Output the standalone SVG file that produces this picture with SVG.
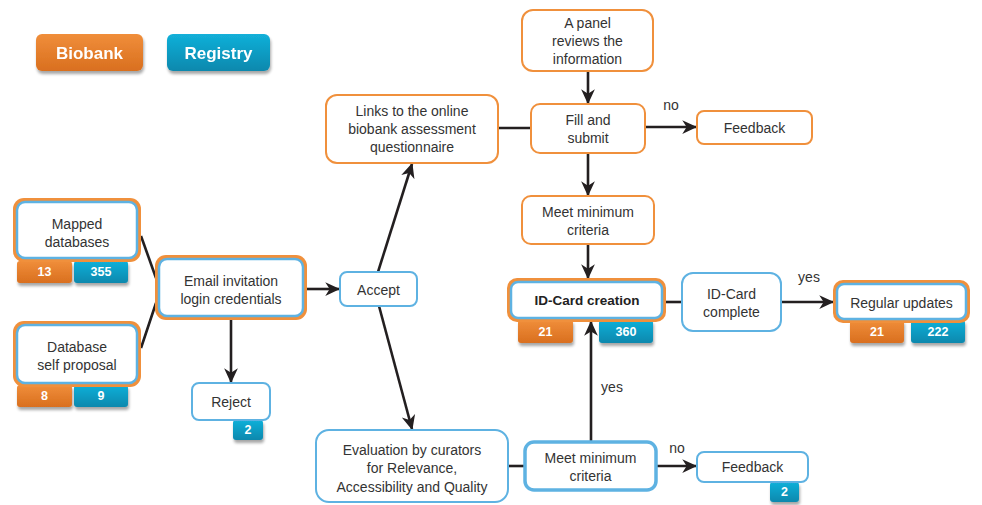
<svg xmlns="http://www.w3.org/2000/svg" width="982" height="505" viewBox="0 0 982 505">
<defs>
<linearGradient id="gO" x1="0" y1="0" x2="0" y2="1"><stop offset="0" stop-color="#f08e3a"/><stop offset="1" stop-color="#d96f1f"/></linearGradient>
<linearGradient id="gB" x1="0" y1="0" x2="0" y2="1"><stop offset="0" stop-color="#12b0d9"/><stop offset="1" stop-color="#0b88ad"/></linearGradient>
<filter id="sh" x="-20%" y="-20%" width="150%" height="160%"><feGaussianBlur in="SourceAlpha" stdDeviation="1.5"/><feOffset dx="1" dy="2.5" result="o"/><feComponentTransfer><feFuncA type="linear" slope="0.35"/></feComponentTransfer><feMerge><feMergeNode/><feMergeNode in="SourceGraphic"/></feMerge></filter>
<marker id="ar" viewBox="0 0 12 12" refX="11" refY="6" markerWidth="15" markerHeight="15" markerUnits="userSpaceOnUse" orient="auto"><path d="M0,0.5 L12,6 L0,11.5 L3.5,6 z" fill="#231f20"/></marker>
</defs>
<style>
text{font-family:"Liberation Sans",Arial,sans-serif;font-size:14px;fill:#333;text-anchor:middle}
.b{font-weight:bold;fill:#fff;font-size:12.5px}
.lg{font-weight:bold;fill:#fff;font-size:17px}
.bo{fill:#fff;stroke:#f0903c;stroke-width:2}
.bb{fill:#fff;stroke:#5eb2e2;stroke-width:2}
.outer{fill:#f0903c}
.inner{fill:#fff;stroke:#5eb2e2;stroke-width:2.5}
.c{stroke:#231f20;stroke-width:2.6;fill:none}
.ca{stroke:#231f20;stroke-width:2.6;fill:none;marker-end:url(#ar)}
</style>
<g id="connectors">
<line class="c" x1="141" y1="236" x2="156" y2="278"/>
<line class="c" x1="141" y1="348" x2="156" y2="303"/>
<line class="ca" x1="307" y1="289" x2="339" y2="289"/>
<line class="ca" x1="231" y1="320" x2="231" y2="382"/>
<line class="ca" x1="378" y1="272" x2="412" y2="164"/>
<line class="ca" x1="379" y1="306" x2="412" y2="429"/>
<line class="c" x1="498" y1="128" x2="531" y2="128"/>
<line class="ca" x1="588" y1="71" x2="588" y2="103"/>
<line class="ca" x1="645" y1="127" x2="696" y2="127"/>
<line class="ca" x1="588" y1="153" x2="588" y2="195"/>
<line class="ca" x1="588" y1="244" x2="588" y2="278"/>
<line class="c" x1="666" y1="302" x2="682" y2="302"/>
<line class="ca" x1="781" y1="302" x2="833" y2="302"/>
<line class="c" x1="508" y1="466" x2="524" y2="466"/>
<line class="ca" x1="591" y1="441" x2="591" y2="322"/>
<line class="ca" x1="657" y1="466" x2="696" y2="466"/>
<text x="671" y="110">no</text>
<text x="809" y="282">yes</text>
<text x="612" y="392">yes</text>
<text x="677" y="453">no</text>
</g>
<g id="legend-biobank" filter="url(#sh)"><rect x="36" y="34" width="107" height="37" rx="6" fill="url(#gO)"/><text class="lg" x="89.5" y="59">Biobank</text></g>
<g id="legend-registry" filter="url(#sh)"><rect x="167" y="34" width="103" height="37" rx="6" fill="url(#gB)"/><text class="lg" x="218.5" y="59">Registry</text></g>
<g id="mapped">
<g filter="url(#sh)"><rect x="17" y="261" width="55" height="22" rx="3" fill="url(#gO)"/><rect x="74" y="261" width="54" height="22" rx="3" fill="url(#gB)"/></g>
<rect class="outer" x="13" y="198" width="128" height="64" rx="11"/><rect class="inner" x="17" y="202" width="120" height="56" rx="8"/>
<text x="77" y="229">Mapped</text><text x="77" y="247">databases</text>
<text class="b" x="44.5" y="276">13</text><text class="b" x="101" y="276">355</text>
</g>
<g id="selfproposal">
<g filter="url(#sh)"><rect x="17" y="385" width="55" height="22" rx="3" fill="url(#gO)"/><rect x="74" y="385" width="54" height="22" rx="3" fill="url(#gB)"/></g>
<rect class="outer" x="13" y="321" width="128" height="66" rx="11"/><rect class="inner" x="17" y="325" width="120" height="58" rx="8"/>
<text x="77" y="352">Database</text><text x="77" y="370">self proposal</text>
<text class="b" x="44.5" y="400">8</text><text class="b" x="101" y="400">9</text>
</g>
<g id="email">
<rect class="outer" x="155" y="255" width="152" height="65" rx="11"/><rect class="inner" x="159" y="259" width="144" height="57" rx="8"/>
<text x="231" y="286">Email invitation</text><text x="231" y="304">login credentials</text>
</g>
<g id="reject">
<rect x="233" y="420" width="30" height="20" rx="3" fill="url(#gB)" filter="url(#sh)"/>
<rect class="bb" x="192" y="383" width="78" height="37" rx="7"/>
<text x="231" y="407">Reject</text><text class="b" x="248" y="434">2</text>
</g>
<g id="accept"><rect class="bb" x="340" y="272" width="77" height="34" rx="7"/><text x="378.5" y="295">Accept</text></g>
<g id="links"><rect class="bo" x="326" y="95" width="172" height="68" rx="11"/>
<text x="412" y="116">Links to the online</text><text x="412" y="134">biobank assessment</text><text x="412" y="152">questionnaire</text></g>
<g id="panel"><rect class="bo" x="522" y="10" width="131" height="61" rx="11"/>
<text x="587.5" y="28">A panel</text><text x="587.5" y="46">reviews the</text><text x="587.5" y="64">information</text></g>
<g id="fill"><rect class="bo" x="531" y="104" width="114" height="49" rx="9"/>
<text x="588" y="125">Fill and</text><text x="588" y="143">submit</text></g>
<g id="feedback-top"><rect class="bo" x="697" y="111" width="115" height="33" rx="7"/><text x="754.5" y="133">Feedback</text></g>
<g id="meet-top"><rect class="bo" x="522" y="196" width="132" height="48" rx="9"/>
<text x="588" y="217">Meet minimum</text><text x="588" y="235">criteria</text></g>
<g id="idcard">
<g filter="url(#sh)"><rect x="518" y="320" width="55" height="23" rx="3" fill="url(#gO)"/><rect x="599" y="320" width="54" height="23" rx="3" fill="url(#gB)"/></g>
<rect class="outer" x="507" y="278" width="159" height="44" rx="10"/><rect class="inner" x="511" y="282" width="151" height="36" rx="7"/>
<text x="587" y="305" style="font-weight:bold;fill:#222;font-size:13.5px">ID-Card creation</text>
<text class="b" x="545.5" y="336">21</text><text class="b" x="626" y="336">360</text>
</g>
<g id="idcomplete"><rect class="bb" x="682" y="273" width="99" height="58" rx="11"/>
<text x="731.5" y="299">ID-Card</text><text x="731.5" y="317">complete</text></g>
<g id="updates">
<g filter="url(#sh)"><rect x="850" y="320" width="54" height="23" rx="3" fill="url(#gO)"/><rect x="911" y="320" width="54" height="23" rx="3" fill="url(#gB)"/></g>
<rect class="outer" x="833" y="280" width="137" height="43" rx="10"/><rect class="inner" x="837" y="284" width="129" height="35" rx="7"/>
<text x="901.5" y="308">Regular updates</text>
<text class="b" x="877" y="336">21</text><text class="b" x="938" y="336">222</text>
</g>
<g id="evaluation"><rect class="bb" x="316" y="430" width="192" height="72" rx="13"/>
<text x="412" y="455">Evaluation by curators</text><text x="412" y="473">for Relevance,</text><text x="412" y="492">Accessibility and Quality</text></g>
<g id="meet-bottom"><rect class="bb" style="stroke-width:3.5" x="525" y="442" width="131" height="48" rx="9"/>
<text x="590.5" y="463">Meet minimum</text><text x="590.5" y="481">criteria</text></g>
<g id="feedback-bottom">
<rect x="770" y="482" width="29" height="20" rx="3" fill="url(#gB)" filter="url(#sh)"/>
<rect class="bb" x="697" y="452" width="111" height="30" rx="7"/>
<text x="752.5" y="472">Feedback</text><text class="b" x="784.5" y="496">2</text>
</g>
</svg>
